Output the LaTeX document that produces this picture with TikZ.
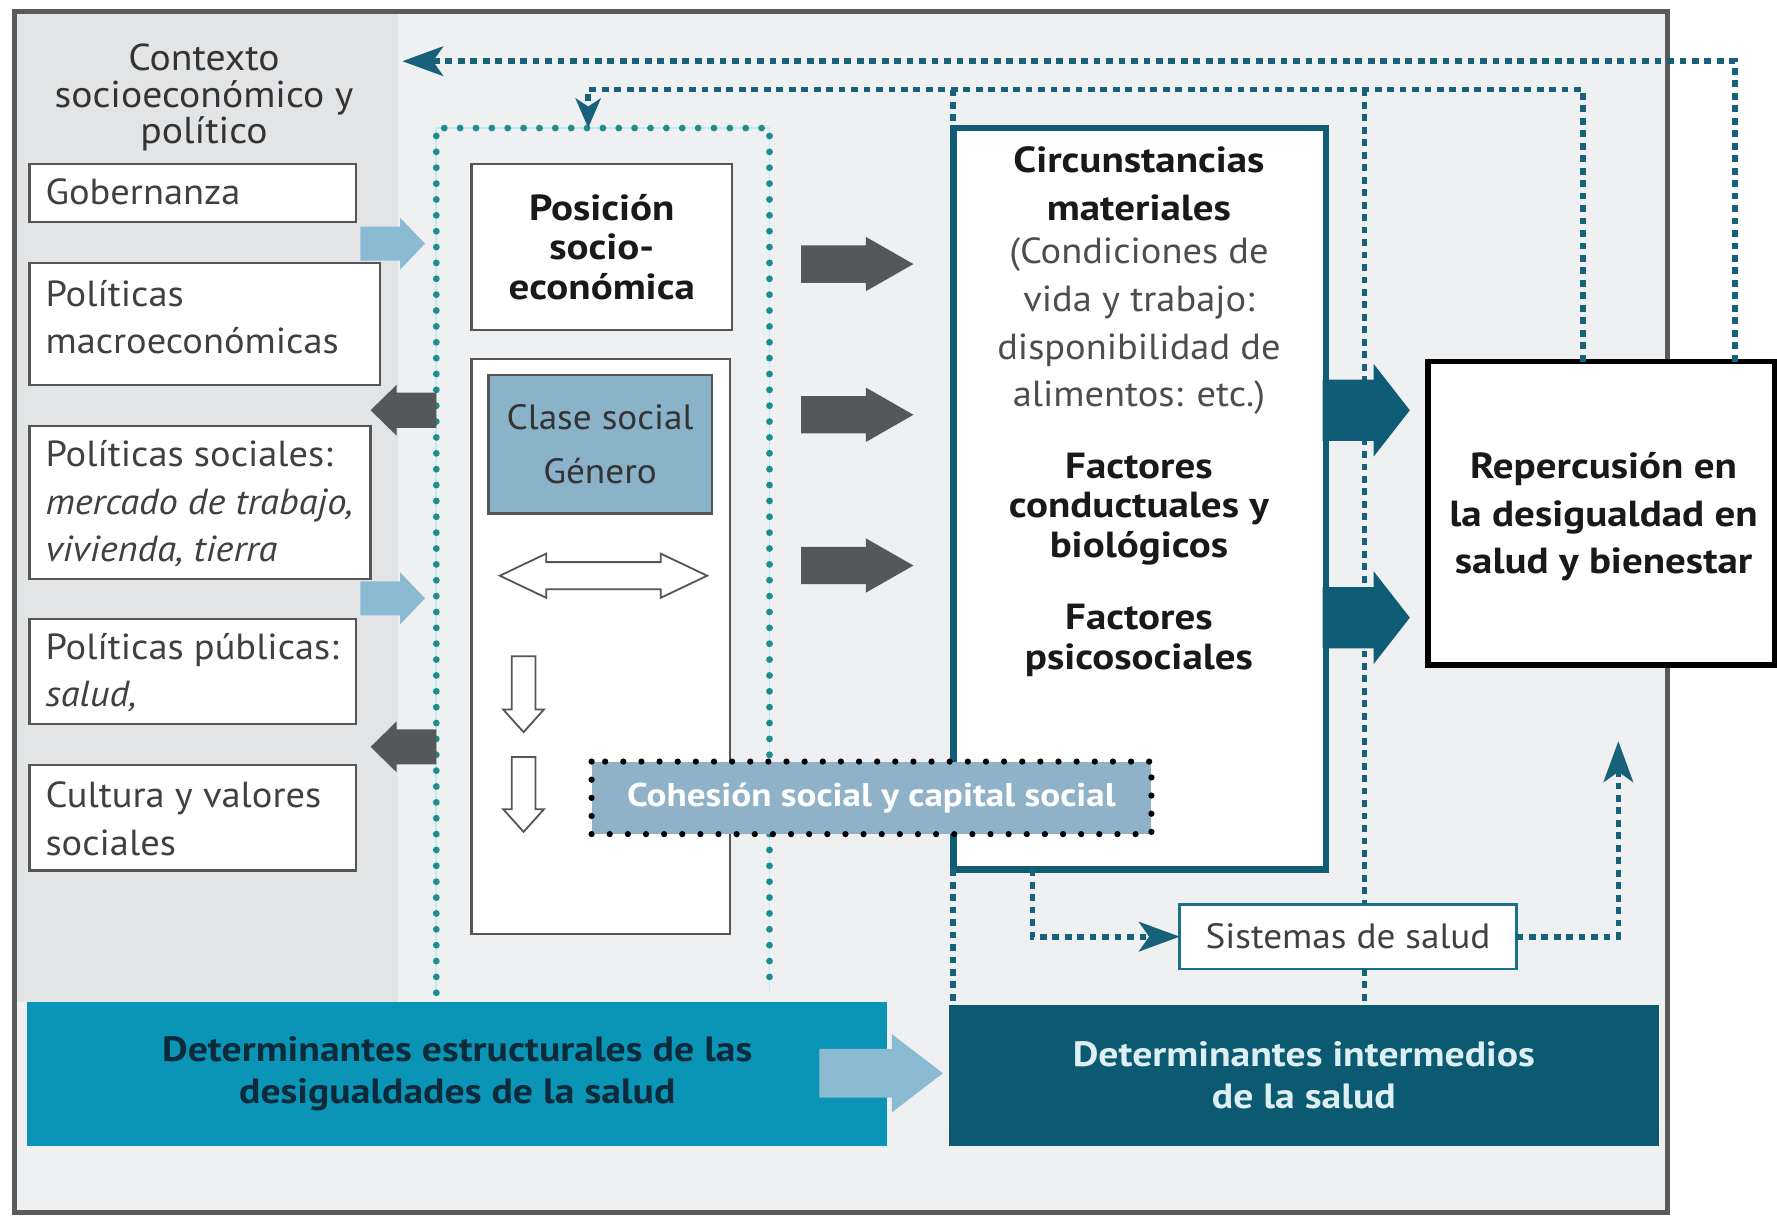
\documentclass[tikz,border=0pt]{standalone}
\usepackage{fontspec}
\setmainfont{PT Sans}[FakeStretch=1.06, BoldFeatures={FakeStretch=1.13}]
\usetikzlibrary{arrows.meta}
\definecolor{bgl}{HTML}{EFF0F1}
\definecolor{bgd}{HTML}{E3E4E6}
\definecolor{framec}{HTML}{5A5A5A}
\definecolor{boxg}{HTML}{555555}
\definecolor{txtg}{HTML}{404040}
\definecolor{circtxt}{HTML}{4D4D4D}
\definecolor{lblue}{HTML}{8BBAD3}
\definecolor{dgray}{HTML}{555759}
\definecolor{tealdot}{HTML}{1C8E8F}
\definecolor{tealhalo}{HTML}{BDEEF3}
\definecolor{fbc}{HTML}{17627A}
\definecolor{circb}{HTML}{105C74}
\definecolor{tealarr}{HTML}{0E5C76}
\definecolor{clasef}{HTML}{8AB2C9}
\definecolor{cohf}{HTML}{8FB2C8}
\definecolor{bluebar}{HTML}{0A94B6}
\definecolor{bluetext}{HTML}{0D2A3A}
\definecolor{tealbar}{HTML}{0B5A72}
\definecolor{tealtext}{HTML}{DDEFF3}
\definecolor{sistb}{HTML}{1A6F8A}
\begin{document}
\begin{tikzpicture}[x=1pt,y=-1pt,
  reg/.style={font=\fontsize{32pt}{42pt}\selectfont},
  lbox/.style={draw=boxg, line width=2pt, fill=white, anchor=north west, inner sep=0pt, outer sep=0pt},
  ltext/.style={anchor=west, align=left, inner sep=0pt, text=txtg, reg},
  gbox/.style={draw=boxg, line width=2pt, fill=white, anchor=north west, outer sep=0pt, inner sep=0pt},
  btext/.style={align=center, inner sep=0pt, text=black!90, font=\bfseries\fontsize{32pt}{35pt}\selectfont},
  bartext/.style={anchor=north west, align=center, outer sep=0pt, inner sep=0pt,
    font=\bfseries\fontsize{31pt}{37pt}\selectfont},
  fb/.style={draw=fbc, line width=5pt, dash pattern=on 6pt off 5pt},
  tdots/.style={draw=tealdot, line width=6pt, line cap=round, dash pattern=on 0pt off 14pt},
  cdots/.style={draw=black, line width=5.5pt, line cap=round, dash pattern=on 0pt off 16pt},
  fbtip/.style={-{Stealth[length=36pt,width=26pt,inset=9pt]}},
  pics/barrow/.style n args={4}{code={
    \path[pic actions] (0,-#2) -- ({#1-#4},-#2) -- ({#1-#4},-#3) -- (#1,0) --
      ({#1-#4},#3) -- ({#1-#4},#2) -- (0,#2) -- cycle;}},
  pics/dblarrow/.style n args={4}{code={
    \path[pic actions] (0,0) -- (#4,-#3) -- (#4,-#2) -- ({#1-#4},-#2) -- ({#1-#4},-#3) -- (#1,0) --
      ({#1-#4},#3) -- ({#1-#4},#2) -- (#4,#2) -- (#4,#3) -- cycle;}}
]
\useasboundingbox (0,0) rectangle (1568,1073);
% backgrounds
\fill[white] (0,0) rectangle (1568,1073);
\fill[bgl] (13,10) rectangle (1471,1070);
\fill[bgd] (15,12) rectangle (351,884);
\draw[framec, line width=4.5pt] (13,10) rectangle (1471,1070);

% title
\node[align=center, text=black!80, font=\fontsize{33pt}{32pt}\selectfont] (ctx) at (180,86)
  {Contexto\\socioeconómico y\\político};
\coordinate (ctxin) at (355,54);

% left boxes
\node[lbox, minimum width=288pt, minimum height=51pt] (gob) at (26,145) {};
\node[ltext] (gobt) at ([xshift=14pt,yshift=1pt]gob.west) {Gobernanza};
\node[lbox, minimum width=309pt, minimum height=108pt] (macro) at (26,232) {};
\node[ltext] (macrot) at ([xshift=14pt,yshift=6pt]macro.west) {Políticas\\macroeconómicas};
\node[lbox, minimum width=301pt, minimum height=135pt] (soc) at (26,376) {};
\node[ltext] (soct) at ([xshift=14pt,yshift=-1pt]soc.west)
  {Políticas sociales:\\\textit{mercado de trabajo,}\\\textit{vivienda, tierra}};
\node[lbox, minimum width=288pt, minimum height=93pt] (pub) at (26,546) {};
\node[ltext] (pubt) at ([xshift=14pt,yshift=-1pt]pub.west) {Políticas públicas:\\\textit{salud,}};
\node[lbox, minimum width=288pt, minimum height=93pt] (cult) at (26,675) {};
\node[ltext] (cultt) at ([xshift=14pt,yshift=-1pt]cult.west) {Cultura y valores\\sociales};

% bottom bars
\node[bartext, fill=bluebar, text=bluetext, minimum width=759pt, minimum height=127pt] (struct) at (24,884)
  {Determinantes estructurales de las\\desigualdades de la salud};
\node[bartext, fill=tealbar, text=tealtext, minimum width=627pt, minimum height=124pt] (interm) at (837,887)
  {Determinantes intermedios\\de la salud};

% structural dotted frame
\node[anchor=north west, minimum width=294pt, minimum height=763pt, inner sep=0pt, outer sep=0pt] (strbox) at (385,113) {};
\draw[tealhalo, line width=1.5pt] (strbox.south west) |- (strbox.north east) -- (strbox.south east);
\draw[tdots] (strbox.south west) |- (strbox.north east) -- (strbox.south east);

% position boxes
\node[gbox, minimum width=230pt, minimum height=146pt] (pos) at (416,145) {};
\node[btext] (postxt) at (pos.center) {Posición\\socio-\\económica};
\node[gbox, minimum width=228pt, minimum height=507pt] (socbox) at (416,317) {};
\node[gbox, fill=clasef, minimum width=197pt, minimum height=122pt, align=center, text=black!80,
  font=\fontsize{31pt}{48pt}\selectfont] (clase) at (431,331) {Clase social\\Género};

% outline arrows inside
\pic[draw=boxg, fill=white, line width=1.6pt] at (441,508) {dblarrow={183}{12}{19.5}{41}};
\pic[draw=boxg, fill=white, line width=1.6pt, rotate=-90] at (462,579) {barrow={67}{10.5}{18}{20}};
\pic[draw=boxg, fill=white, line width=1.6pt, rotate=-90] at (462,668) {barrow={66}{10.5}{18}{20}};

% intermediate box
\node[draw=circb, line width=6pt, fill=white, minimum width=329pt, minimum height=654pt,
  anchor=north west, outer sep=0pt, inner sep=0pt] (circ) at (841,113) {};
\node[btext, font=\bfseries\fontsize{32pt}{42pt}\selectfont] (cm) at (1005,162) {Circunstancias\\materiales};
\node[align=center, inner sep=0pt, text=circtxt, reg] (cond) at (1005,288)
  {(Condiciones de\\vida y trabajo:\\disponibilidad de\\alimentos: etc.)};
\node[btext] (fcb) at (1005,449) {Factores\\conductuales y\\biológicos};
\node[btext] (fps) at (1005,565) {Factores\\psicosociales};

% outcome box
\node[draw=black, line width=5pt, fill=white, minimum width=306pt, minimum height=268pt,
  anchor=north west, outer sep=0pt, inner sep=0pt] (rep) at (1260,319) {};
\node[btext, font=\bfseries\fontsize{32pt}{42pt}\selectfont] (reptxt) at (1415,456)
  {Repercusión en\\la desigualdad en\\salud y bienestar};

% health systems
\node[draw=sistb, line width=2.5pt, fill=white, minimum width=297pt, minimum height=57pt,
  anchor=north west, outer sep=0pt, text=txtg, font=\fontsize{31pt}{36pt}\selectfont] (sist) at (1041,798) {Sistemas de salud};

% feedback dotted lines
\coordinate (c1) at (1531,54);
\coordinate (c2) at (1397,79);
\coordinate (c2l) at (519,79);
\coordinate (c3) at (1204,79);
\coordinate (c4) at (911,828);
\coordinate (c5) at (1428,654);
\draw[fb, fbtip] (rep.north -| c1) |- (ctxin);
\draw[fb, -{Stealth[length=26pt,width=22pt,inset=7pt]}] (rep.north -| c2) |- (c2l) -- (strbox.north -| c2l);
\draw[fb] (circ.north west |- c2) -- (circ.north west);
\draw[fb] (circ.south west) -- (circ.south west |- interm.north);
\draw[fb] (c3) -- (c3 |- sist.north);
\draw[fb] (sist.south -| c3) -- (c3 |- interm.north);
\draw[fb, fbtip] (circ.south -| c4) |- (sist.west);
\draw[fb, fbtip] (sist.east) -| (c5);

% block arrows
\pic[fill=lblue] at (318,215) {barrow={57}{15}{23}{22}};
\pic[fill=lblue] at (318,528) {barrow={57}{15}{23}{22}};
\pic[fill=dgray, rotate=180] at (385,362) {barrow={58}{15.5}{22.5}{23}};
\pic[fill=dgray, rotate=180] at (385,659) {barrow={58}{15.5}{22.5}{23}};
\pic[fill=dgray] at (707,233) {barrow={99}{16.5}{24}{42}};
\pic[fill=dgray] at (707,366) {barrow={99}{16.5}{24}{42}};
\pic[fill=dgray] at (707,499) {barrow={99}{16.5}{24}{42}};
\pic[fill=tealarr] at (1167,362) {barrow={77}{27}{41}{32}};
\pic[fill=tealarr] at (1167,545) {barrow={77}{27}{41}{32}};
\pic[fill=lblue] at (723,947) {barrow={109}{21.5}{34.5}{45}};

% social cohesion
\node[fill=cohf, text=white, minimum width=494pt, minimum height=64pt, anchor=north west,
  inner sep=0pt, outer sep=0pt, font=\bfseries\fontsize{29pt}{36pt}\selectfont] (coh) at (522,672)
  {Cohesión social y capital social};
\draw[cdots] (coh.north west) rectangle (coh.south east);
\end{tikzpicture}
\end{document}
